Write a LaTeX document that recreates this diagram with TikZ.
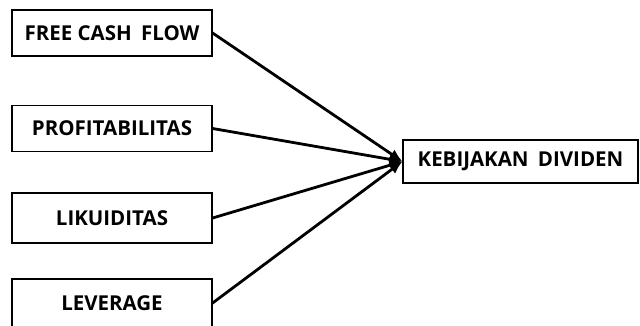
\documentclass[tikz,border=0pt]{standalone}
\usepackage{fontspec}
\setmainfont{Open Sans}
\usepackage{tikz}
\usetikzlibrary{arrows.meta,positioning}

\tikzset{
	varbox/.style={draw,line width=1.2pt,rectangle,minimum width=200pt,minimum height=46pt,inner sep=0pt,font=\fontsize{20.5}{24}\selectfont\bfseries},
	link/.style={-{Latex[length=13pt,width=11pt]},line width=2.8pt,shorten <=-0.5pt}
}

\begin{document}
\begin{tikzpicture}[x=1pt,y=-1pt]
		\useasboundingbox (0,0) rectangle (640,326);
		\node[varbox] (fcf) at (112,33) {FREE CASH\hspace{4pt} FLOW};
		\node[varbox] (prof) at (112,128.5) {PROFITABILITAS};
		\node[varbox,minimum height=50pt] (lik) at (112,218) {LIKUIDITAS};
		\node[varbox,minimum height=48pt] (lev) at (112,303) {LEVERAGE};
		\node[varbox,minimum width=235pt,minimum height=43pt] (kd) at (520.5,161.5) {KEBIJAKAN\hspace{4pt} DIVIDEN};
		\draw[link] (fcf.east) -- (kd.west);
		\draw[link] (prof.east) -- (kd.west);
		\draw[link] (lik.east) -- (kd.west);
		\draw[link] (lev.east) -- (kd.west);
	\end{tikzpicture}
\end{document}
